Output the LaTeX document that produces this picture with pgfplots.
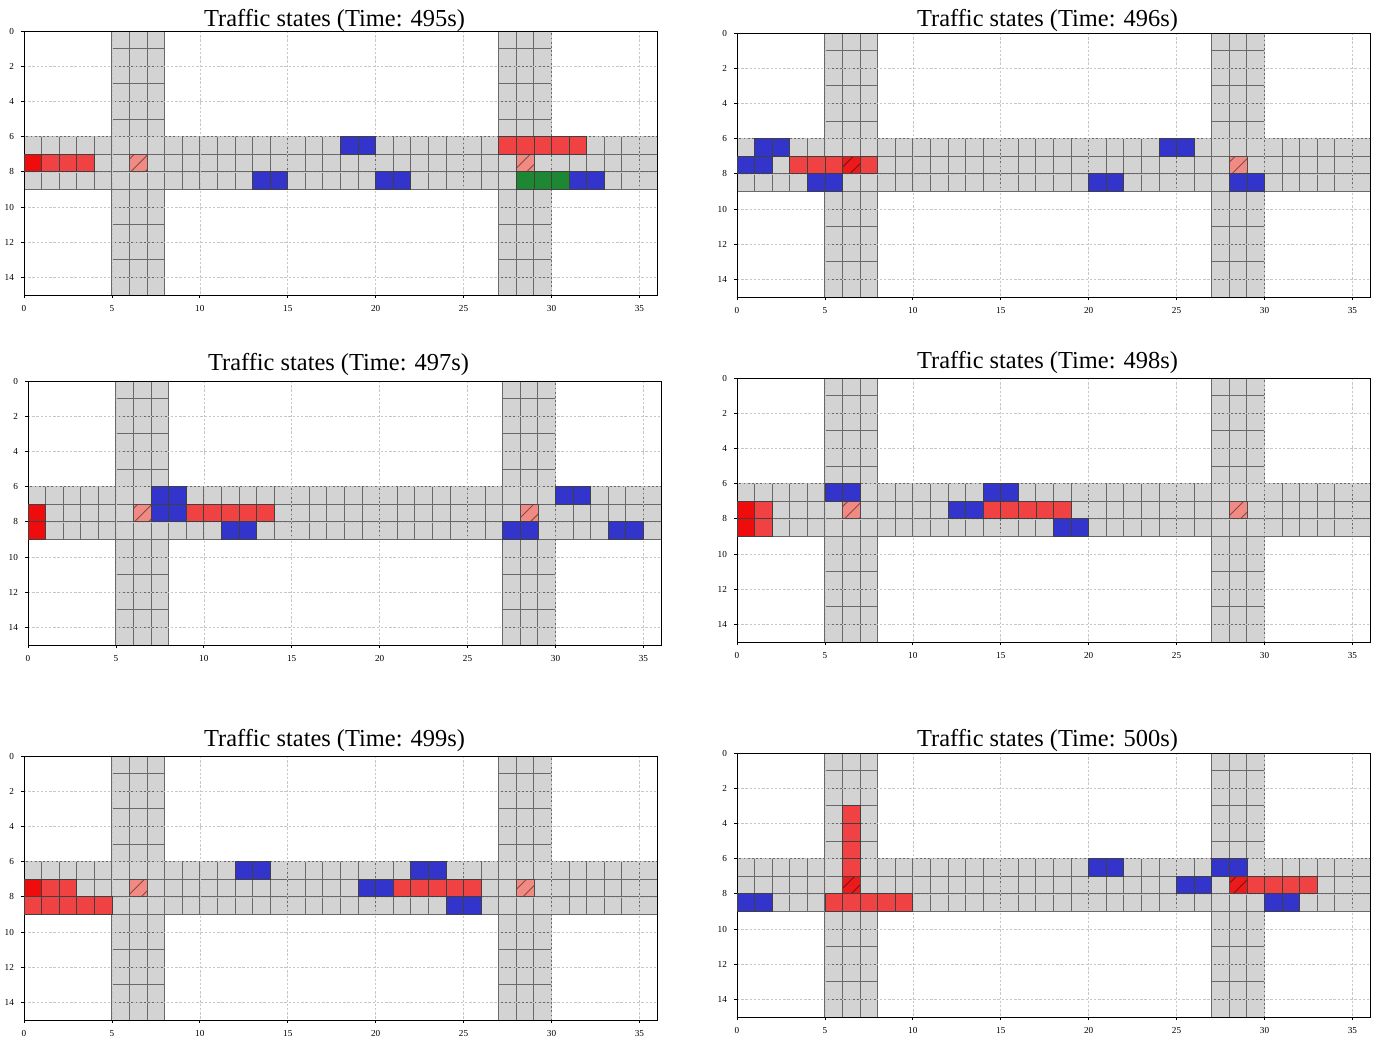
\documentclass[border=0pt]{standalone}
\usepackage{pgfplots}
\pgfplotsset{compat=1.18}
\usepackage{fontspec}
\setmainfont{Liberation Serif}
\usetikzlibrary{patterns.meta}

\definecolor{road}{RGB}{211,211,211}
\definecolor{edgegray}{RGB}{105,105,105}
\definecolor{carred}{RGB}{240,66,66}
\definecolor{leadred}{RGB}{238,12,12}
\definecolor{carblue}{RGB}{50,52,204}
\definecolor{cargreen}{RGB}{30,135,52}
\definecolor{lightsig}{RGB}{240,138,130}
\definecolor{hotred}{RGB}{236,26,26}

\pgfplotsset{
  tgrid/.style={
    scale only axis, width=316.5pt, height=132pt, anchor=north west,
    xmin=0, xmax=36, ymin=0, ymax=15, y dir=reverse,
    xtick={0,5,...,35}, ytick={0,2,...,14},
    grid=major, grid style={dash pattern=on 1.2pt off 0.9pt, black!22, line width=0.28pt},
    axis on top, tick align=outside, tick pos=left,
    major tick length=1.5pt, tick style={black, line width=0.35pt},
    axis line style={line width=0.45pt},
    ticklabel style={font=\fontsize{4.6}{5}\selectfont},
    /pgf/number format/assume math mode=true,
    title style={font=\fontsize{12.2}{14}\selectfont, at={(0.5,1)}, anchor=base, xshift=-3pt},
  },
  celledge/.style={draw=edgegray, line width=0.45pt, forget plot},
  cellmark/.style={only marks, mark=square*, mark size=4.4pt,
    mark options={fill=#1, draw=black!75, line width=0.35pt}},
}

% road surface with its cell grid
\newcommand\road{%
  \addplot[fill=road, draw=none] coordinates {(0,6) (36,6) (36,9) (0,9)} -- cycle;
  \addplot[fill=road, draw=none] coordinates {(5,0) (8,0) (8,15) (5,15)} -- cycle;
  \addplot[fill=road, draw=none] coordinates {(27,0) (30,0) (30,15) (27,15)} -- cycle;
  \pgfplotsinvokeforeach{1,...,35}{\addplot[celledge] coordinates {(##1,6) (##1,9)};}
  \pgfplotsinvokeforeach{6,7,8,9}{\addplot[celledge] coordinates {(0,##1) (36,##1)};}
  \pgfplotsinvokeforeach{5,6,7,8,27,28,29,30}{\addplot[celledge] coordinates {(##1,0) (##1,15)};}
  \pgfplotsinvokeforeach{1,...,14}{%
    \addplot[celledge] coordinates {(5,##1) (8,##1)};
    \addplot[celledge] coordinates {(27,##1) (30,##1)};}
}
% occupied cells: column row pairs
\newcommand\cells[2]{%
  \addplot[cellmark=#1] table[x expr=\thisrowno{0}+0.5, y expr=\thisrowno{1}+0.5, row sep=\\, header=false]{#2};
}
% signal cell with hatching: column, row, fill colour
\newcommand\signal[3]{%
  \addplot[fill=#3, draw=black!70, line width=0.35pt,
    postaction={pattern={Lines[angle=45, distance=5pt, line width=0.45pt]}, pattern color=#3!55!black}]
    table[x expr=\thisrowno{0}+#1, y expr=\thisrowno{1}+#2, row sep=\\, header=false]{0 0\\ 1 0\\ 1 1\\ 0 1\\} -- cycle;
}

\begin{document}
\begin{tikzpicture}
\useasboundingbox (0,0) rectangle (689pt,-519pt);

% t = 495 s
\begin{axis}[tgrid, at={(12pt,-15.5pt)}, title={Traffic states (Time: 495s)}, title style={yshift=-3.5pt}]
\road
\cells{leadred}{0 7\\}
\cells{carred}{1 7\\ 2 7\\ 3 7\\ 27 6\\ 28 6\\ 29 6\\ 30 6\\ 31 6\\}
\cells{carblue}{13 8\\ 14 8\\ 18 6\\ 19 6\\ 20 8\\ 21 8\\ 31 8\\ 32 8\\}
\cells{cargreen}{28 8\\ 29 8\\ 30 8\\}
\signal{6}{7}{lightsig}
\signal{28}{7}{lightsig}
\end{axis}

% t = 496 s
\begin{axis}[tgrid, at={(368.5pt,-16.5pt)}, title={Traffic states (Time: 496s)}, title style={yshift=-2.5pt}]
\road
\cells{carblue}{1 6\\ 2 6\\ 0 7\\ 1 7\\ 4 8\\ 5 8\\ 20 8\\ 21 8\\ 24 6\\ 25 6\\ 28 8\\ 29 8\\}
\cells{carred}{3 7\\ 4 7\\ 5 7\\ 7 7\\}
\signal{6}{7}{hotred}
\signal{28}{7}{lightsig}
\end{axis}

% t = 497 s
\begin{axis}[tgrid, at={(14pt,-190.5pt)}, title={Traffic states (Time: 497s)}, title style={yshift=-0.5pt}]
\road
\cells{leadred}{0 7\\ 0 8\\}
\cells{carblue}{7 6\\ 8 6\\ 7 7\\ 8 7\\ 11 8\\ 12 8\\ 30 6\\ 31 6\\ 27 8\\ 28 8\\ 33 8\\ 34 8\\}
\cells{carred}{9 7\\ 10 7\\ 11 7\\ 12 7\\ 13 7\\}
\signal{6}{7}{lightsig}
\signal{28}{7}{lightsig}
\end{axis}

% t = 498 s
\begin{axis}[tgrid, at={(368.5pt,-189pt)}, title={Traffic states (Time: 498s)}, title style={yshift=-1pt}]
\road
\cells{leadred}{0 7\\ 0 8\\}
\cells{carred}{1 7\\ 1 8\\ 14 7\\ 15 7\\ 16 7\\ 17 7\\ 18 7\\}
\cells{carblue}{5 6\\ 6 6\\ 12 7\\ 13 7\\ 14 6\\ 15 6\\ 18 8\\ 19 8\\}
\signal{6}{7}{lightsig}
\signal{28}{7}{lightsig}
\end{axis}

% t = 499 s
\begin{axis}[tgrid, at={(12pt,-378pt)}, title={Traffic states (Time: 499s)}, title style={yshift=-1pt}]
\road
\cells{leadred}{0 7\\}
\cells{carred}{1 7\\ 2 7\\ 0 8\\ 1 8\\ 2 8\\ 3 8\\ 4 8\\ 21 7\\ 22 7\\ 23 7\\ 24 7\\ 25 7\\}
\cells{carblue}{12 6\\ 13 6\\ 19 7\\ 20 7\\ 22 6\\ 23 6\\ 24 8\\ 25 8\\}
\signal{6}{7}{lightsig}
\signal{28}{7}{lightsig}
\end{axis}

% t = 500 s
\begin{axis}[tgrid, at={(368.5pt,-376.5pt)}, title={Traffic states (Time: 500s)}, title style={yshift=-2.5pt}]
\road
\cells{carblue}{0 8\\ 1 8\\ 20 6\\ 21 6\\ 25 7\\ 26 7\\ 27 6\\ 28 6\\ 30 8\\ 31 8\\}
\cells{carred}{6 3\\ 6 4\\ 6 5\\ 6 6\\ 5 8\\ 6 8\\ 7 8\\ 8 8\\ 9 8\\ 29 7\\ 30 7\\ 31 7\\ 32 7\\}
\signal{6}{7}{hotred}
\signal{28}{7}{hotred}
\end{axis}
\end{tikzpicture}
\end{document}
